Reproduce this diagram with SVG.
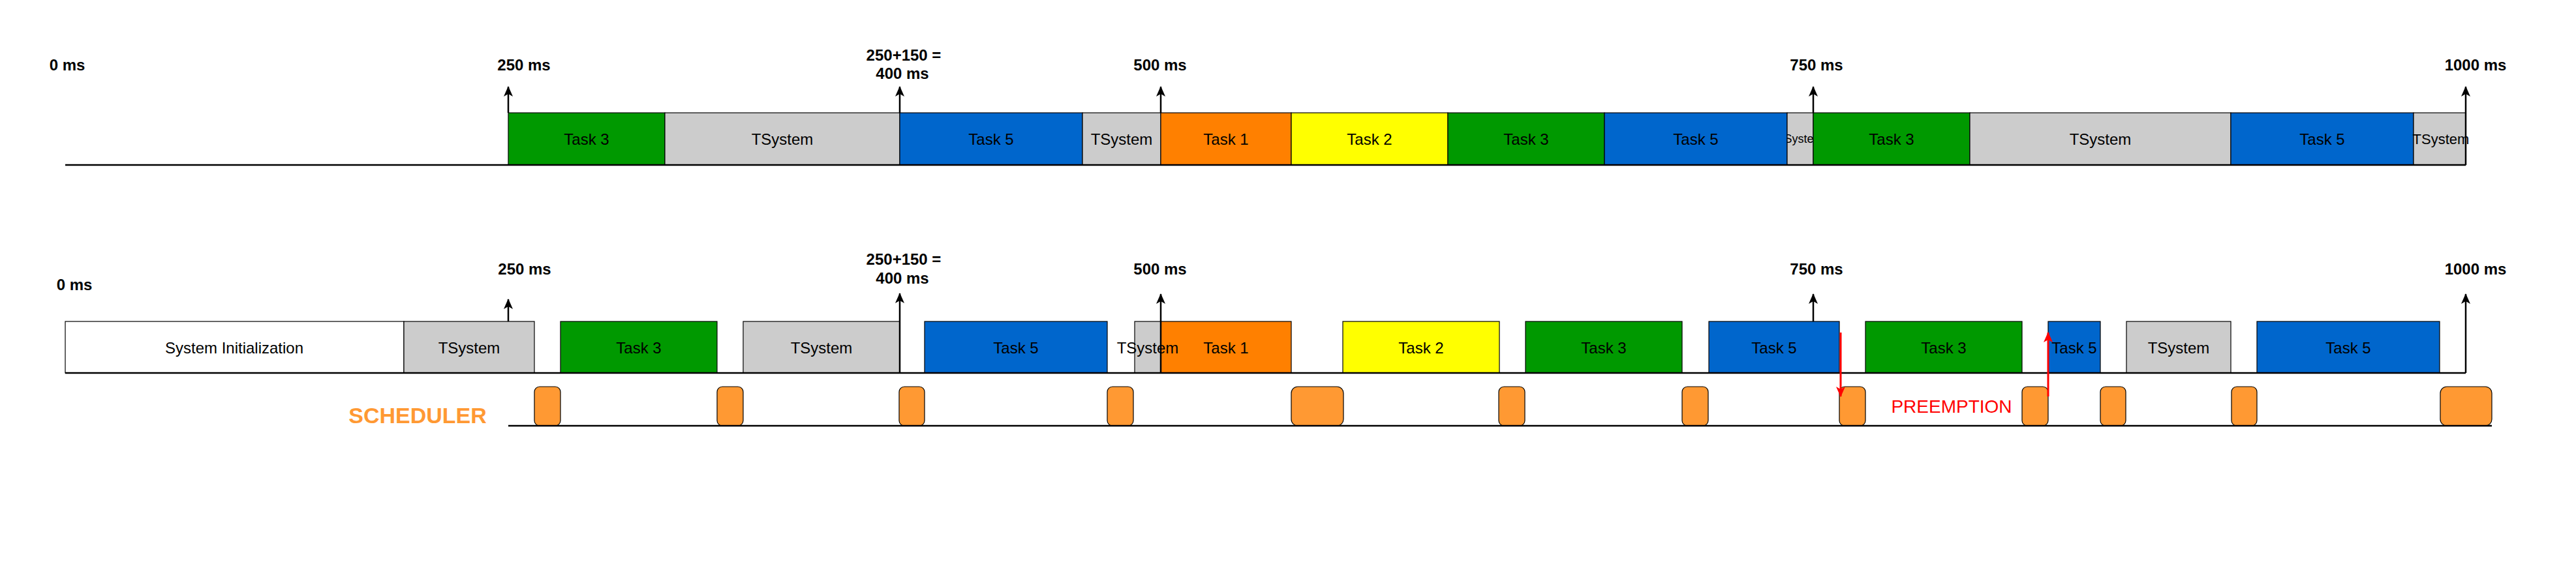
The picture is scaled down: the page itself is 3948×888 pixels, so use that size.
<svg xmlns="http://www.w3.org/2000/svg" width="3948" height="888" viewBox="0 0 3948 888">
<style>
text{font-family:"Liberation Sans",Arial,sans-serif;}
.lbl{font-size:24px;text-anchor:middle;dominant-baseline:central;fill:#000;}
.ms{font-size:24px;font-weight:bold;text-anchor:middle;fill:#000;}
.box{stroke:#000;stroke-width:1.2;}
.t3{fill:#009900;}
.ts{fill:#CCCCCC;}
.t5{fill:#0066CC;}
.t1{fill:#FF8000;}
.t2{fill:#FFFF00;}
.init{fill:#FFFFFF;}
.sch{fill:#FF9933;stroke:#000;stroke-width:1.2;}
.axis{stroke:#000;stroke-width:2.5;fill:none;}
.tick{stroke:#000;stroke-width:2.5;fill:none;marker-end:url(#ah);}
.red{stroke:#FF0000;stroke-width:3;fill:none;marker-end:url(#rh);}
</style>
<defs>
<marker id="ah" viewBox="0 0 16 14" refX="15" refY="7" markerWidth="16" markerHeight="14" markerUnits="userSpaceOnUse" orient="auto">
<path d="M0,0 L16,7 L0,14 L4,7 Z" fill="#000"/>
</marker>
<marker id="rh" viewBox="0 0 16 14" refX="15" refY="7" markerWidth="16" markerHeight="14" markerUnits="userSpaceOnUse" orient="auto">
<path d="M0,0 L16,7 L0,14 L4,7 Z" fill="#FF0000"/>
</marker>
<clipPath id="clipSys"><rect x="2739" y="173" width="40" height="80"/></clipPath>
</defs>

<!-- TOP ROW -->
<g id="top-row">
<g id="top-task3-a"><rect class="box t3" x="779" y="173" width="240" height="80"/><text class="lbl" x="899" y="213">Task 3</text></g>
<g id="top-tsys-a"><rect class="box ts" x="1019" y="173" width="360" height="80"/><text class="lbl" x="1199" y="213">TSystem</text></g>
<g id="top-task5-a"><rect class="box t5" x="1379" y="173" width="280" height="80"/><text class="lbl" x="1519" y="213">Task 5</text></g>
<g id="top-tsys-b"><rect class="box ts" x="1659" y="173" width="120" height="80"/><text class="lbl" x="1719" y="213">TSystem</text></g>
<g id="top-task1"><rect class="box t1" x="1779" y="173" width="200" height="80"/><text class="lbl" x="1879" y="213">Task 1</text></g>
<g id="top-task2"><rect class="box t2" x="1979" y="173" width="240" height="80"/><text class="lbl" x="2099" y="213">Task 2</text></g>
<g id="top-task3-b"><rect class="box t3" x="2219" y="173" width="240" height="80"/><text class="lbl" x="2339" y="213">Task 3</text></g>
<g id="top-task5-b"><rect class="box t5" x="2459" y="173" width="280" height="80"/><text class="lbl" x="2599" y="213">Task 5</text></g>
<g id="top-tsys-c"><rect class="box ts" x="2739" y="173" width="40" height="80"/><text class="lbl" x="2759" y="213" style="font-size:18px" clip-path="url(#clipSys)">TSystem</text></g>
<g id="top-task3-c"><rect class="box t3" x="2779" y="173" width="240" height="80"/><text class="lbl" x="2899" y="213">Task 3</text></g>
<g id="top-tsys-d"><rect class="box ts" x="3019" y="173" width="400" height="80"/><text class="lbl" x="3219" y="213">TSystem</text></g>
<g id="top-task5-c"><rect class="box t5" x="3419" y="173" width="280" height="80"/><text class="lbl" x="3559" y="213">Task 5</text></g>
<g id="top-tsys-e"><rect class="box ts" x="3699" y="173" width="80" height="80"/><text class="lbl" x="3741" y="213" style="font-size:22px">TSystem</text></g>
</g>

<!-- BOTTOM ROW -->
<g id="bottom-row">
<g id="bot-init"><rect class="box init" x="100" y="493" width="519" height="79"/><text class="lbl" x="359" y="533">System Initialization</text></g>
<g id="bot-tsys-a"><rect class="box ts" x="619" y="493" width="200" height="79"/><text class="lbl" x="719" y="533">TSystem</text></g>
<g id="bot-task3-a"><rect class="box t3" x="859" y="493" width="240" height="79"/><text class="lbl" x="979" y="533">Task 3</text></g>
<g id="bot-tsys-b"><rect class="box ts" x="1139" y="493" width="240" height="79"/><text class="lbl" x="1259" y="533">TSystem</text></g>
<g id="bot-task5-a"><rect class="box t5" x="1417" y="493" width="280" height="79"/><text class="lbl" x="1557" y="533">Task 5</text></g>
<g id="bot-tsys-c"><rect class="box ts" x="1739" y="493" width="40" height="79"/></g>
<g id="bot-task1"><rect class="box t1" x="1779" y="493" width="200" height="79"/><text class="lbl" x="1879" y="533">Task 1</text></g>
<text class="lbl" x="1759" y="533">TSystem</text>
<g id="bot-task2"><rect class="box t2" x="2058" y="493" width="240" height="79"/><text class="lbl" x="2178" y="533">Task 2</text></g>
<g id="bot-task3-b"><rect class="box t3" x="2338" y="493" width="240" height="79"/><text class="lbl" x="2458" y="533">Task 3</text></g>
<g id="bot-task5-b"><rect class="box t5" x="2619" y="493" width="200" height="79"/><text class="lbl" x="2719" y="533">Task 5</text></g>
<g id="bot-task3-c"><rect class="box t3" x="2859" y="493" width="240" height="79"/><text class="lbl" x="2979" y="533">Task 3</text></g>
<g id="bot-task5-c"><rect class="box t5" x="3139" y="493" width="80" height="79"/><text class="lbl" x="3179" y="533">Task 5</text></g>
<g id="bot-tsys-d"><rect class="box ts" x="3259" y="493" width="160" height="79"/><text class="lbl" x="3339" y="533">TSystem</text></g>
<g id="bot-task5-d"><rect class="box t5" x="3459" y="493" width="280" height="79"/><text class="lbl" x="3599" y="533">Task 5</text></g>
</g>

<!-- SCHEDULER -->
<g id="scheduler">
<text x="640" y="637" style="font-size:34px;font-weight:bold;fill:#FF9933;text-anchor:middle;dominant-baseline:central">SCHEDULER</text>
<rect class="sch" x="819" y="593" width="40" height="60" rx="8"/>
<rect class="sch" x="1099" y="593" width="40" height="60" rx="8"/>
<rect class="sch" x="1378" y="593" width="39" height="60" rx="8"/>
<rect class="sch" x="1697" y="593" width="40" height="60" rx="8"/>
<rect class="sch" x="1979" y="593" width="80" height="60" rx="10"/>
<rect class="sch" x="2297" y="593" width="40" height="60" rx="8"/>
<rect class="sch" x="2578" y="593" width="40" height="60" rx="8"/>
<rect class="sch" x="2819" y="593" width="40" height="60" rx="8"/>
<rect class="sch" x="3099" y="593" width="40" height="60" rx="8"/>
<rect class="sch" x="3219" y="593" width="39" height="60" rx="8"/>
<rect class="sch" x="3420" y="593" width="39" height="60" rx="8"/>
<rect class="sch" x="3740" y="593" width="79" height="60" rx="10"/>
</g>

<!-- CONNECTORS / AXES -->
<g id="connectors">
<line class="axis" x1="100" y1="253" x2="3779" y2="253"/>
<line class="axis" x1="100" y1="572" x2="3779" y2="572"/>
<line class="axis" x1="779" y1="653" x2="3819" y2="653"/>
<line class="tick" x1="779" y1="173" x2="779" y2="133"/>
<line class="tick" x1="1379" y1="173" x2="1379" y2="133"/>
<line class="tick" x1="1779" y1="173" x2="1779" y2="133"/>
<line class="tick" x1="2779" y1="173" x2="2779" y2="133"/>
<line class="tick" x1="3779" y1="253" x2="3779" y2="133"/>
<line class="tick" x1="779" y1="493" x2="779" y2="459"/>
<line class="tick" x1="1379" y1="572" x2="1379" y2="450"/>
<line class="tick" x1="1779" y1="572" x2="1779" y2="451"/>
<line class="tick" x1="2779" y1="493" x2="2779" y2="451"/>
<line class="tick" x1="3779" y1="572" x2="3779" y2="451"/>
<line class="red" x1="2821" y1="510" x2="2821" y2="608"/>
<line class="red" x1="3139" y1="608" x2="3139" y2="510"/>
</g>

<!-- LABELS -->
<g id="labels">
<text class="ms" x="103" y="108">0 ms</text>
<text class="ms" x="803" y="108">250 ms</text>
<text class="ms" x="1385" y="93">250+150 =</text>
<text class="ms" x="1383" y="121">400 ms</text>
<text class="ms" x="1778" y="108">500 ms</text>
<text class="ms" x="2784" y="108">750 ms</text>
<text class="ms" x="3794" y="108">1000 ms</text>
<text class="ms" x="114" y="445">0 ms</text>
<text class="ms" x="804" y="421">250 ms</text>
<text class="ms" x="1385" y="406">250+150 =</text>
<text class="ms" x="1383" y="435">400 ms</text>
<text class="ms" x="1778" y="421">500 ms</text>
<text class="ms" x="2784" y="421">750 ms</text>
<text class="ms" x="3794" y="421">1000 ms</text>
<text x="2991" y="623" style="font-size:28px;fill:#FF0000;text-anchor:middle;dominant-baseline:central">PREEMPTION</text>
</g>
</svg>
